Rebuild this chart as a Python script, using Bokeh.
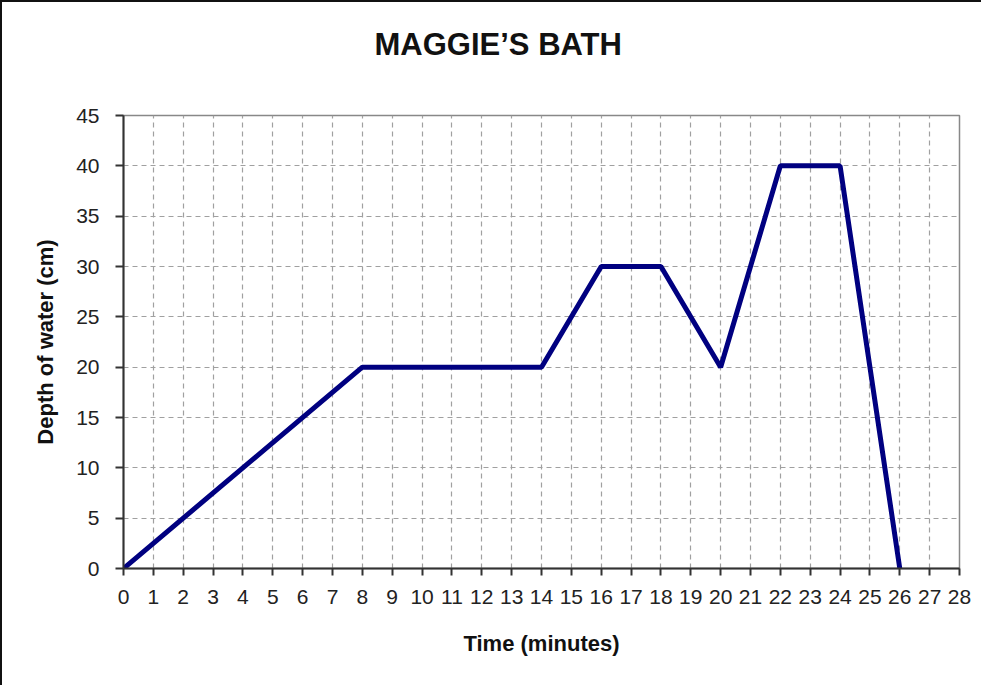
from bokeh.plotting import figure
from bokeh.models import Range1d, FixedTicker, Title
from bokeh.embed import file_html
from bokeh.resources import INLINE

# Data
time_min = [0, 8, 14, 16, 18, 20, 22, 24, 26]
depth_cm = [0, 20, 20, 30, 30, 20, 40, 40, 0]
x_ticks = list(range(0, 29))
y_ticks = list(range(0, 46, 5))
title_text = "MAGGIE\u2019S BATH"

FONT = "Liberation Sans"

p = figure(width=981, height=685, output_backend="svg", toolbar_location=None,
           x_range=Range1d(0, 28), y_range=Range1d(0, 45),
           min_border_left=121, min_border_right=24, min_border_top=113, min_border_bottom=119)
p.styles = {"border-left": "2px solid #111", "border-top": "2px solid #111"}

# invisible spacer between the frame and the title
p.add_layout(Title(text=" ", text_font_size="1px", standoff=51), "above")

p.title.text = title_text
p.title.align = "left"
p.title.offset = 251
p.title.standoff = 0
p.title.text_font = FONT
p.title.text_font_size = "31px"
p.title.text_font_style = "bold"
p.title.text_color = "#111111"

p.line(time_min, depth_cm, line_color="#000080", line_width=5)

p.xaxis.ticker = FixedTicker(ticks=x_ticks)
p.yaxis.ticker = FixedTicker(ticks=y_ticks)
p.xaxis.axis_label = "Time (minutes)"
p.yaxis.axis_label = "Depth of water (cm)"
for ax in (p.xaxis[0], p.yaxis[0]):
    ax.axis_label_text_font = FONT
    ax.axis_label_text_font_style = "bold"
    ax.axis_label_text_font_size = "22px"
    ax.axis_label_text_color = "#111111"
    ax.major_label_text_font = FONT
    ax.major_label_text_font_size = "21px"
    ax.major_label_text_color = "#222222"
    ax.axis_line_color = "#333333"
    ax.axis_line_width = 2
    ax.major_tick_line_color = "#333333"
    ax.major_tick_line_width = 2
    ax.major_tick_in = 0
    ax.minor_tick_line_color = None
p.xaxis.major_tick_out = 7
p.yaxis.major_tick_out = 8
p.xaxis.major_label_standoff = 14
p.yaxis.major_label_standoff = 16
p.xaxis.axis_label_standoff = 24
p.yaxis.axis_label_standoff = 15

p.xgrid.ticker = FixedTicker(ticks=x_ticks)
p.ygrid.ticker = FixedTicker(ticks=y_ticks)
for g in (p.xgrid[0], p.ygrid[0]):
    g.grid_line_color = "#a0a0a0"
    g.grid_line_dash = "5 4"
    g.grid_line_width = 1.2

p.outline_line_color = "#888888"
p.outline_line_width = 1.5
p.background_fill_color = "white"
p.border_fill_color = "white"

open("out.html", "w").write(file_html(p, INLINE))
